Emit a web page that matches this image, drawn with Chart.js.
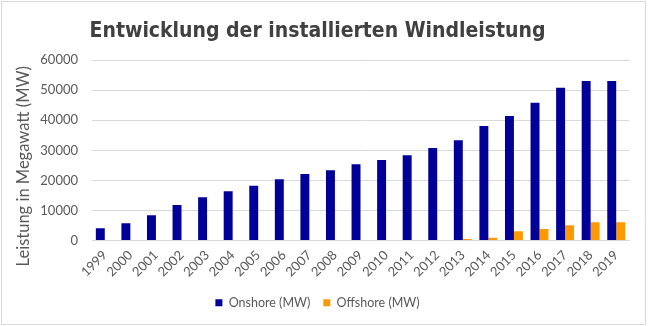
<!DOCTYPE html>
<html lang="de">
<head>
<meta charset="utf-8">
<title>Entwicklung der installierten Windleistung</title>
<script src="https://cdn.jsdelivr.net/npm/chart.js@4/dist/chart.umd.min.js"></script>
<style>
  html, body { margin: 0; padding: 0; background: #ffffff; }
  #wrap { position: relative; width: 648px; height: 326px; }
</style>
</head>
<body>
<div id="wrap"><canvas id="chart" width="648" height="326"></canvas></div>
<script>
// Installed wind capacity in Germany, MW per year
const years = ['1999', '2000', '2001', '2002', '2003', '2004', '2005', '2006', '2007', '2008',
               '2009', '2010', '2011', '2012', '2013', '2014', '2015', '2016', '2017', '2018', '2019'];
const onshoreMW = [4100, 5700, 8400, 11800, 14400, 16400, 18200, 20400, 22100, 23400,
                   25400, 26800, 28400, 30800, 33400, 38100, 41400, 45800, 50800, 53100, 53100];
const offshoreMW = [0, 0, 0, 0, 0, 0, 0, 0, 0, 0,
                    0, 0, 0, 0, 500, 900, 3100, 3800, 5100, 6100, 6100];
const yTicks = [0, 10000, 20000, 30000, 40000, 50000, 60000];
const yAxisTitle = 'Leistung in Megawatt (MW)';

const textGrey = '#595959';
const gridGrey = '#d9d9d9';
const tickFont = { family: 'Lato, sans-serif', size: 13 };

// thin frame around the whole chart
const framePlugin = {
  id: 'frame',
  afterDraw(chart) {
    const ctx = chart.ctx;
    ctx.save();
    ctx.strokeStyle = '#d9d9d9';
    ctx.lineWidth = 1;
    ctx.strokeRect(1.5, 1.5, chart.width - 4, chart.height - 3);
    ctx.restore();
  }
};

// vertical axis title, centred over the plot plus the year labels below it
const yTitlePlugin = {
  id: 'yTitle',
  afterDraw(chart) {
    const ctx = chart.ctx;
    const area = chart.chartArea;
    const cy = area.top + 106;
    ctx.save();
    ctx.translate(24, cy);
    ctx.rotate(-Math.PI / 2);
    ctx.fillStyle = textGrey;
    ctx.font = '16.5px Lato, sans-serif';
    ctx.textAlign = 'center';
    ctx.textBaseline = 'middle';
    ctx.fillText(yAxisTitle, 0, 0);
    ctx.restore();
  }
};

new Chart(document.getElementById('chart'), {
  type: 'bar',
  data: {
    labels: years,
    datasets: [
      {
        label: 'Onshore (MW)',
        data: onshoreMW,
        backgroundColor: '#000099',
        barPercentage: 1.0,
        categoryPercentage: 0.7
      },
      {
        label: 'Offshore (MW)',
        data: offshoreMW,
        backgroundColor: '#ff9900',
        barPercentage: 1.0,
        categoryPercentage: 0.7
      }
    ]
  },
  options: {
    responsive: false,
    animation: false,
    layout: { padding: { left: 6, right: 19, top: 0, bottom: 7 } },
    plugins: {
      title: {
        display: true,
        text: 'Entwicklung der installierten Windleistung',
        color: '#404040',
        font: { family: '"DejaVu Sans Condensed", sans-serif', size: 21, weight: 'bold', lineHeight: 1.2 },
        padding: { top: 19, bottom: 16 }
      },
      legend: {
        position: 'bottom',
        labels: {
          color: textGrey,
          font: { family: 'Lato, sans-serif', size: 12.5 },
          boxWidth: 7,
          boxHeight: 7,
          padding: 13
        }
      },
      tooltip: { enabled: false }
    },
    scales: {
      x: {
        grid: { display: false, drawTicks: false },
        border: { display: true, color: gridGrey, width: 1 },
        ticks: {
          color: textGrey,
          font: tickFont,
          minRotation: 45,
          maxRotation: 45,
          padding: 7,
          autoSkip: false
        },
        afterFit(scale) { scale.height = 43; }
      },
      y: {
        min: 0,
        max: 60000,
        afterBuildTicks(scale) { scale.ticks = yTicks.map(v => ({ value: v })); },
        grid: { color: gridGrey, lineWidth: 1, drawTicks: false },
        border: { display: false },
        ticks: {
          color: textGrey,
          font: tickFont,
          padding: 14,
          callback: v => String(v)
        },
        afterFit(scale) { scale.width = 86; }
      }
    }
  },
  plugins: [framePlugin, yTitlePlugin]
});
</script>
</body>
</html>
